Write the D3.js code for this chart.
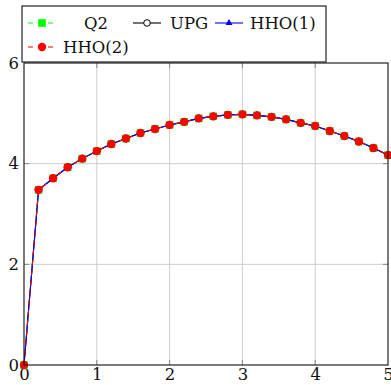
<!DOCTYPE html>
<html>
<head>
<meta charset="utf-8">
<script src="https://cdn.jsdelivr.net/npm/d3@7"></script>
<style>
  body { margin: 0; background: white; }
  svg text { font-family: "DejaVu Serif", serif; }
</style>
</head>
<body>
<div id="chart"></div>
<script>
// Datos
const xs = [0, 0.2, 0.4, 0.6, 0.8, 1.0, 1.2, 1.4, 1.6, 1.8, 2.0, 2.2, 2.4,
  2.6, 2.8, 3.0, 3.2, 3.4, 3.6, 3.8, 4.0, 4.2, 4.4, 4.6, 4.8, 5.0];
const q2 = [0, 3.48, 3.71, 3.93, 4.10, 4.25, 4.39, 4.50, 4.61, 4.69, 4.77,
  4.83, 4.90, 4.94, 4.97, 4.98, 4.96, 4.93, 4.88, 4.81, 4.75, 4.65, 4.55,
  4.44, 4.31, 4.17];
const upg = [0, 3.48, 3.71, 3.93, 4.10, 4.25, 4.39, 4.50, 4.61, 4.69, 4.77,
  4.83, 4.90, 4.94, 4.97, 4.98, 4.96, 4.93, 4.88, 4.81, 4.75, 4.65, 4.55,
  4.44, 4.31, 4.17];
const hho1 = [0, 3.48, 3.71, 3.93, 4.10, 4.25, 4.39, 4.50, 4.61, 4.69, 4.77,
  4.83, 4.90, 4.94, 4.97, 4.98, 4.96, 4.93, 4.88, 4.81, 4.75, 4.65, 4.55,
  4.44, 4.31, 4.17];
const hho2 = [0, 3.48, 3.71, 3.93, 4.10, 4.25, 4.39, 4.50, 4.61, 4.69, 4.77,
  4.83, 4.90, 4.94, 4.97, 4.98, 4.96, 4.93, 4.88, 4.81, 4.75, 4.65, 4.55,
  4.44, 4.31, 4.17];
const xTicks = [0, 1, 2, 3, 4, 5];
const yTicks = [0, 2, 4, 6];

const series = [
  { name: "Q2", values: q2, color: "#00ff00", dash: "5,5", mark: "square" },
  { name: "UPG", values: upg, color: "black", dash: null, mark: "ocircle" },
  { name: "HHO(1)", values: hho1, color: "blue", dash: null, mark: "triangle" },
  { name: "HHO(2)", values: hho2, color: "red", dash: "5,5", mark: "circle" },
];

const width = 391, height = 385;
const mLeft = 24, mRight = 388, mTop = 63, mBottom = 365;
const fontSize = "16.5px";

const svg = d3.select("#chart").append("svg")
  .attr("width", width).attr("height", height);

const x = d3.scaleLinear().domain([0, 5]).range([mLeft, mRight]);
const y = d3.scaleLinear().domain([0, 6]).range([mBottom, mTop]);

// Rejilla
svg.append("g").selectAll("line").data(xTicks.slice(1, -1)).enter().append("line")
  .attr("x1", d => x(d)).attr("x2", d => x(d)).attr("y1", mTop).attr("y2", mBottom)
  .attr("stroke", "#cccccc").attr("stroke-width", 1);
svg.append("g").selectAll("line").data(yTicks.slice(1, -1)).enter().append("line")
  .attr("y1", d => y(d)).attr("y2", d => y(d)).attr("x1", mLeft).attr("x2", mRight)
  .attr("stroke", "#cccccc").attr("stroke-width", 1);

// Marcas internas
const tickLen = 5;
const ticks = svg.append("g").attr("stroke", "#888").attr("stroke-width", 1);
xTicks.slice(1, -1).forEach(t => {
  ticks.append("line").attr("x1", x(t)).attr("x2", x(t)).attr("y1", mBottom).attr("y2", mBottom - tickLen);
  ticks.append("line").attr("x1", x(t)).attr("x2", x(t)).attr("y1", mTop).attr("y2", mTop + tickLen);
});
yTicks.slice(1, -1).forEach(t => {
  ticks.append("line").attr("y1", y(t)).attr("y2", y(t)).attr("x1", mLeft).attr("x2", mLeft + tickLen);
  ticks.append("line").attr("y1", y(t)).attr("y2", y(t)).attr("x1", mRight).attr("x2", mRight - tickLen);
});

// Ejes con etiquetas
const xAxis = svg.append("g").attr("transform", `translate(0,${mBottom})`)
  .call(d3.axisBottom(x).tickValues(xTicks).tickSize(0).tickPadding(3).tickFormat(d3.format("d")));
xAxis.select(".domain").remove();
xAxis.selectAll("text").style("font-size", fontSize).attr("fill", "#111");

const yAxis = svg.append("g").attr("transform", `translate(${mLeft},0)`)
  .call(d3.axisLeft(y).tickValues(yTicks).tickSize(0).tickPadding(5).tickFormat(d3.format("d")));
yAxis.select(".domain").remove();
yAxis.selectAll("text").style("font-size", fontSize).attr("fill", "#111");

// Clip
svg.append("defs").append("clipPath").attr("id", "clip")
  .append("rect").attr("x", mLeft - 6).attr("y", mTop - 6)
  .attr("width", mRight - mLeft + 12).attr("height", mBottom - mTop + 12);

const line = d3.line().x((d, i) => x(xs[i])).y(d => y(d));

const drawMark = (g, mark, color, cx, cy) => {
  if (mark === "square") {
    g.append("rect").attr("x", cx - 3.8).attr("y", cy - 3.8)
      .attr("width", 7.6).attr("height", 7.6).attr("fill", color);
  } else if (mark === "ocircle") {
    g.append("circle").attr("cx", cx).attr("cy", cy).attr("r", 3.3)
      .attr("fill", "white").attr("stroke", color).attr("stroke-width", 1);
  } else if (mark === "triangle") {
    const r = 4;
    g.append("path")
      .attr("d", `M${cx},${cy - r} L${cx + r * 0.866},${cy + r * 0.5} L${cx - r * 0.866},${cy + r * 0.5}Z`)
      .attr("fill", color);
  } else {
    g.append("circle").attr("cx", cx).attr("cy", cy).attr("r", 4.2).attr("fill", color);
  }
};

const plot = svg.append("g").attr("clip-path", "url(#clip)");
series.forEach(s => {
  const g = plot.append("g");
  g.append("path").datum(s.values).attr("d", line)
    .attr("fill", "none").attr("stroke", s.color).attr("stroke-width", 1.1)
    .attr("stroke-dasharray", s.dash);
  s.values.forEach((v, i) => drawMark(g, s.mark, s.color, x(xs[i]), y(v)));
});

// Marco
svg.append("rect").attr("x", mLeft).attr("y", mTop)
  .attr("width", mRight - mLeft).attr("height", mBottom - mTop)
  .attr("fill", "none").attr("stroke", "#222").attr("stroke-width", 1.2);

// Leyenda
const legend = svg.append("g");
legend.append("rect").attr("x", 22).attr("y", 6).attr("width", 304).attr("height", 56)
  .attr("fill", "white").attr("stroke", "#222").attr("stroke-width", 1.2);

const legendPos = [
  { lx: 28, tx: 96, anchor: "middle", ly: 23 },
  { lx: 133, tx: 170, anchor: "start", ly: 23 },
  { lx: 215, tx: 250, anchor: "start", ly: 23 },
  { lx: 28, tx: 63, anchor: "start", ly: 47 },
];
series.forEach((s, i) => {
  const p = legendPos[i];
  const g = legend.append("g");
  g.append("line").attr("x1", p.lx).attr("x2", p.lx + 28).attr("y1", p.ly).attr("y2", p.ly)
    .attr("stroke", s.color).attr("stroke-width", 1.1).attr("stroke-dasharray", s.dash);
  drawMark(g, s.mark, s.color, p.lx + 14, p.ly);
  g.append("text").attr("x", p.tx).attr("y", p.ly + 6)
    .attr("text-anchor", p.anchor).style("font-size", fontSize).attr("fill", "#111")
    .text(s.name);
});
</script>
</body>
</html>
